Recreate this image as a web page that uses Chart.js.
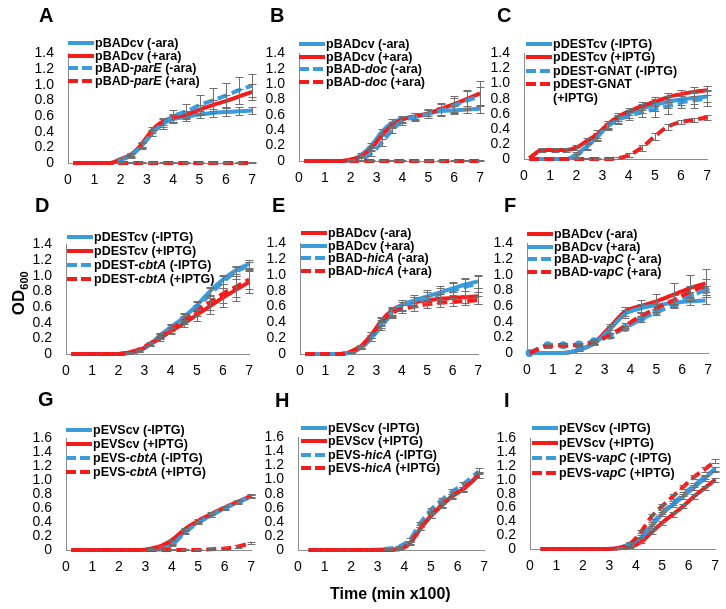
<!DOCTYPE html>
<html>
<head>
<meta charset="utf-8">
<script src="https://cdn.jsdelivr.net/npm/chart.js@4.4.0/dist/chart.umd.min.js"></script>
<style>
body { margin: 0; background: #fff; font-family: "Liberation Sans", Arial, sans-serif; }
#fig { position: relative; width: 726px; height: 609px; overflow: hidden; }
canvas { position: absolute; }
.letter { position: absolute; font-weight: bold; font-size: 20px; line-height: 1; }
.lg { position: absolute; font-weight: bold; font-size: 12.5px; line-height: 14px; white-space: nowrap; display: flex; align-items: flex-start; }
.lg svg { margin-top: 4px; margin-right: 1px; flex: none; }
.axtitle { position: absolute; font-weight: bold; font-size: 16px; line-height: 1; white-space: nowrap; }
</style>
</head>
<body>
<div id="fig"></div>
<script>
// time points (min x100)
const tStd = [0.2, 0.7, 1.2, 1.6, 2.0, 2.4, 2.8, 3.2, 3.6, 4.0, 4.5, 5.0, 5.5, 6.0, 6.5, 7.0];
const tF = [0.1, 0.8, 1.4, 2.0, 2.6, 3.2, 3.8, 4.4, 5.0, 5.7, 6.3, 6.9];
const tH = [0.4, 1.0, 1.6, 2.2, 2.8, 3.4, 3.8, 4.2, 4.6, 5.0, 5.4, 5.8, 6.2, 6.8];
const tI = [0.4, 0.9, 1.4, 1.9, 2.4, 2.9, 3.4, 3.8, 4.2, 4.6, 5.0, 5.4, 5.8, 6.2, 6.6, 7.0];
const xTicks = [0, 1, 2, 3, 4, 5, 6, 7];

// A - parE
const aCvMinus = [0,0,0,0,0.04,0.1,0.22,0.38,0.5,0.56,0.59,0.62,0.64,0.65,0.66,0.67];
const aCvPlus  = [0,0,0,0,0.05,0.11,0.24,0.42,0.53,0.58,0.62,0.68,0.74,0.79,0.85,0.91];
const aTaMinus = [0,0,0,0,0.04,0.1,0.22,0.38,0.5,0.6,0.66,0.74,0.8,0.86,0.93,0.99];
const aTaPlus  = [0,0,0,0,0,0,0,0,0,0,0,0,0,0,0,0];
const aErrCvMinus = [0,0,0,0,0.02,0.02,0.03,0.04,0.04,0.05,0.05,0.05,0.05,0.05,0.05,0.05];
const aErrCvPlus  = [0,0,0,0,0.02,0.02,0.03,0.04,0.04,0.05,0.05,0.06,0.07,0.08,0.09,0.1];
const aErrTaMinus = [0,0,0,0,0.02,0.03,0.04,0.04,0.06,0.08,0.1,0.13,0.16,0.16,0.17,0.15];
const aErrTaPlus  = [0,0,0,0,0.01,0.01,0.01,0.01,0.01,0.01,0.01,0.01,0.01,0.01,0.01,0.01];

// B - doc
const bCvMinus = [0,0,0,0,0.01,0.08,0.2,0.38,0.5,0.55,0.58,0.62,0.65,0.66,0.67,0.68];
const bCvPlus  = [0,0,0,0,0.02,0.06,0.17,0.33,0.47,0.54,0.58,0.62,0.68,0.74,0.81,0.88];
const bTaMinus = [0,0,0,0,0,0.02,0.1,0.24,0.4,0.52,0.57,0.61,0.66,0.72,0.79,0.84];
const bTaPlus  = [0,0,0,0,0,0,0,0,0,0,0,0,0,0,0,0];
const bErrCvMinus = [0,0,0,0,0.01,0.02,0.03,0.04,0.04,0.04,0.04,0.04,0.05,0.05,0.05,0.05];
const bErrCvPlus  = [0,0,0,0,0.01,0.02,0.03,0.04,0.04,0.04,0.05,0.06,0.08,0.1,0.12,0.16];
const bErrTaMinus = [0,0,0,0,0.01,0.02,0.03,0.04,0.04,0.05,0.05,0.05,0.08,0.1,0.12,0.12];
const bErrTaPlus  = [0,0,0,0,0.01,0.01,0.01,0.01,0.01,0.01,0.01,0.01,0.01,0.01,0.01,0.01];

// C - GNAT
const cCvMinus = [0,0,0,0,0.06,0.17,0.3,0.45,0.53,0.6,0.67,0.72,0.76,0.79,0.81,0.83];
const cCvPlus  = [0.01,0.12,0.12,0.12,0.15,0.24,0.33,0.46,0.56,0.63,0.7,0.76,0.82,0.86,0.89,0.91];
const cTaMinus = [0,0,0,0,0.04,0.16,0.29,0.43,0.52,0.57,0.62,0.66,0.7,0.75,0.78,0.8];
const cTaPlus  = [0,0,0,0,0,0,0,0,0.01,0.05,0.15,0.3,0.43,0.49,0.52,0.55];
const cErrCvMinus = [0,0,0,0,0.03,0.04,0.05,0.05,0.05,0.05,0.06,0.08,0.08,0.08,0.08,0.08];
const cErrCvPlus  = [0,0.03,0.03,0.03,0.03,0.04,0.05,0.05,0.05,0.05,0.05,0.06,0.06,0.06,0.06,0.06];
const cErrTaMinus = [0,0,0,0,0.03,0.04,0.05,0.05,0.05,0.05,0.06,0.1,0.1,0.08,0.1,0.1];
const cErrTaPlus  = [0,0,0,0,0.01,0.01,0.01,0.01,0.02,0.03,0.04,0.05,0.04,0.03,0.03,0.03];

// D - cbtA (pDEST)
const dCvMinus = [0,0,0,0,0,0.01,0.04,0.12,0.24,0.34,0.47,0.62,0.8,0.95,1.07,1.15];
const dCvPlus  = [0,0,0,0,0,0.02,0.05,0.12,0.2,0.29,0.39,0.5,0.61,0.72,0.82,0.92];
const dTaMinus = [0,0,0,0,0,0.01,0.04,0.12,0.23,0.33,0.46,0.6,0.76,0.92,1.05,1.13];
const dTaPlus  = [0,0,0,0,0,0.02,0.06,0.13,0.22,0.31,0.43,0.55,0.66,0.77,0.86,0.95];
const dErrCvMinus = [0,0,0,0,0,0.01,0.01,0.02,0.03,0.04,0.05,0.06,0.06,0.06,0.05,0.05];
const dErrCvPlus  = [0,0,0,0,0,0.01,0.01,0.02,0.03,0.04,0.05,0.08,0.1,0.12,0.14,0.14];
const dErrTaMinus = [0,0,0,0,0,0.01,0.01,0.02,0.03,0.04,0.05,0.07,0.08,0.08,0.06,0.05];
const dErrTaPlus  = [0,0,0,0,0,0.01,0.01,0.02,0.03,0.04,0.05,0.07,0.1,0.12,0.13,0.12];

// E - hicA (pBAD)
const eCvMinus = [0,0,0,0,0.03,0.1,0.24,0.42,0.55,0.62,0.66,0.68,0.7,0.71,0.72,0.73];
const eCvPlus  = [0,0,0,0,0.02,0.08,0.2,0.38,0.53,0.62,0.68,0.73,0.78,0.83,0.88,0.92];
const eTaMinus = [0,0,0,0,0.02,0.08,0.2,0.35,0.5,0.6,0.66,0.71,0.76,0.8,0.85,0.89];
const eTaPlus  = [0,0,0,0,0.03,0.1,0.24,0.4,0.52,0.57,0.6,0.63,0.65,0.66,0.67,0.68];
const eErrCvMinus = [0,0,0,0,0.01,0.02,0.04,0.05,0.05,0.06,0.06,0.06,0.06,0.07,0.08,0.1];
const eErrCvPlus  = [0,0,0,0,0.01,0.02,0.04,0.05,0.05,0.06,0.07,0.08,0.08,0.08,0.08,0.08];
const eErrTaMinus = [0,0,0,0,0.01,0.02,0.04,0.05,0.05,0.06,0.06,0.07,0.08,0.1,0.1,0.1];
const eErrTaPlus  = [0,0,0,0,0.01,0.02,0.04,0.05,0.05,0.05,0.05,0.05,0.05,0.05,0.05,0.05];

// F - vapC (pBAD)
const fCvMinus = [0,0,0,0.04,0.13,0.33,0.53,0.6,0.66,0.75,0.83,0.89];
const fCvPlus  = [0,0,0,0.04,0.12,0.3,0.5,0.57,0.61,0.64,0.66,0.67];
const fTaMinus = [0,0.1,0.1,0.11,0.15,0.22,0.32,0.43,0.52,0.62,0.73,0.8];
const fTaPlus  = [0,0.09,0.1,0.1,0.14,0.23,0.35,0.47,0.57,0.68,0.78,0.86];
const fErrCvMinus = [0,0,0,0.01,0.02,0.04,0.06,0.08,0.1,0.14,0.17,0.18];
const fErrCvPlus  = [0,0,0,0.01,0.02,0.04,0.05,0.05,0.05,0.05,0.05,0.05];
const fErrTaMinus = [0,0.02,0.02,0.02,0.03,0.03,0.03,0.04,0.04,0.04,0.05,0.06];
const fErrTaPlus  = [0,0.02,0.02,0.02,0.03,0.03,0.03,0.04,0.05,0.06,0.08,0.08];

// G - cbtA (pEVS)
const gCvMinus = [0,0,0,0,0,0,0,0,0.01,0.08,0.27,0.4,0.5,0.6,0.69,0.78];
const gCvPlus  = [0,0,0,0,0,0,0,0.02,0.06,0.14,0.3,0.42,0.52,0.61,0.69,0.77];
const gTaMinus = [0,0,0,0,0,0,0,0,0.01,0.07,0.25,0.39,0.5,0.6,0.68,0.77];
const gTaPlus  = [0,0,0,0,0,0,0,0,0,0,0,0,0.01,0.02,0.05,0.1];
const gErr     = [0,0,0,0,0,0,0,0.01,0.01,0.01,0.02,0.02,0.02,0.02,0.02,0.02];

// H - hicA (pEVS)
const hCvMinus = [0,0,0,0,0,0.01,0.02,0.1,0.31,0.49,0.64,0.77,0.87,1.07];
const hCvPlus  = [0,0,0,0,0,0,0.01,0.09,0.3,0.48,0.63,0.76,0.86,1.06];
const hTaMinus = [0,0,0,0,0,0.02,0.05,0.15,0.38,0.57,0.71,0.83,0.93,1.12];
const hTaPlus  = [0,0,0,0,0,0,0.01,0.1,0.31,0.49,0.64,0.77,0.87,1.07];
const hErr     = [0,0,0,0,0,0.01,0.01,0.02,0.02,0.03,0.03,0.03,0.03,0.04];

// I - vapC (pEVS)
const iCvMinus = [0,0,0,0,0,0,0.02,0.08,0.16,0.33,0.51,0.64,0.76,0.89,1.02,1.15];
const iCvPlus  = [0,0,0,0,0,0,0.01,0.03,0.1,0.24,0.38,0.5,0.62,0.76,0.88,1.0];
const iTaMinus = [0,0,0,0,0,0,0.02,0.07,0.18,0.36,0.53,0.66,0.79,0.92,1.04,1.16];
const iTaPlus  = [0,0,0,0,0,0,0.02,0.08,0.25,0.47,0.62,0.76,0.9,1.04,1.15,1.27];
const iErr     = [0,0,0,0,0,0,0.01,0.02,0.02,0.03,0.03,0.03,0.03,0.03,0.03,0.03];

const BLUE = '#3b9bdb';
const RED = '#f31c1c';

Chart.defaults.font.family = '"Liberation Sans", Arial, sans-serif';

// box: [x of 0, x of 7, y of max, y of 0]; legend: [left, first row y, row step]
const panels = [
  { letter: 'A', lx: 39, ly: 8, box: [68, 253, 43, 163], ymax: 1.4, t: tStd, legend: [68, 43, 12.7], series: [
    { label: 'pBADcv (-ara)', c: BLUE, v: aCvMinus, e: aErrCvMinus },
    { label: 'pBADcv (+ara)', c: RED, v: aCvPlus, e: aErrCvPlus },
    { label: 'pBAD-<i>parE</i> (-ara)', c: BLUE, dash: true, v: aTaMinus, e: aErrTaMinus },
    { label: 'pBAD-<i>parE</i> (+ara)', c: RED, dash: true, v: aTaPlus, e: aErrTaPlus } ] },
  { letter: 'B', lx: 270, ly: 8, box: [299, 481, 43, 161], ymax: 1.4, t: tStd, legend: [299, 44, 12.7], series: [
    { label: 'pBADcv (-ara)', c: BLUE, v: bCvMinus, e: bErrCvMinus },
    { label: 'pBADcv (+ara)', c: RED, v: bCvPlus, e: bErrCvPlus },
    { label: 'pBAD-<i>doc</i> (-ara)', c: BLUE, dash: true, v: bTaMinus, e: bErrTaMinus },
    { label: 'pBAD-<i>doc</i> (+ara)', c: RED, dash: true, v: bTaPlus, e: bErrTaPlus } ] },
  { letter: 'C', lx: 497, ly: 8, box: [524, 708, 43, 159], ymax: 1.4, t: tStd, legend: [526, 44, 13.3], series: [
    { label: 'pDESTcv (-IPTG)', c: BLUE, v: cCvMinus, e: cErrCvMinus },
    { label: 'pDESTcv (+IPTG)', c: RED, v: cCvPlus, e: cErrCvPlus },
    { label: 'pDEST-GNAT (-IPTG)', c: BLUE, dash: true, v: cTaMinus, e: cErrTaMinus },
    { label: 'pDEST-GNAT<br>(+IPTG)', c: RED, dash: true, v: cTaPlus, e: cErrTaPlus } ] },
  { letter: 'D', lx: 35, ly: 198, box: [66, 250, 234, 354], ymax: 1.4, t: tStd, legend: [67, 237, 14], series: [
    { label: 'pDESTcv (-IPTG)', c: BLUE, v: dCvMinus, e: dErrCvMinus },
    { label: 'pDESTcv (+IPTG)', c: RED, v: dCvPlus, e: dErrCvPlus },
    { label: 'pDEST-<i>cbtA</i> (-IPTG)', c: BLUE, dash: true, v: dTaMinus, e: dErrTaMinus },
    { label: 'pDEST-<i>cbtA</i> (+IPTG)', c: RED, dash: true, v: dTaPlus, e: dErrTaPlus } ] },
  { letter: 'E', lx: 272, ly: 198, box: [300, 479, 233, 354], ymax: 1.4, t: tStd, legend: [301, 233, 12.7], series: [
    { label: 'pBADcv (-ara)', c: RED, v: eCvMinus, e: eErrCvMinus },
    { label: 'pBADcv (+ara)', c: BLUE, v: eCvPlus, e: eErrCvPlus },
    { label: 'pBAD-<i>hicA</i> (-ara)', c: BLUE, dash: true, v: eTaMinus, e: eErrTaMinus },
    { label: 'pBAD-<i>hicA</i> (+ara)', c: RED, dash: true, v: eTaPlus, e: eErrTaPlus } ] },
  { letter: 'F', lx: 504, ly: 198, box: [527, 709, 233, 353], ymax: 1.4, t: tF, legend: [527, 234, 12.7], series: [
    { label: 'pBADcv (-ara)', c: RED, v: fCvMinus, e: fErrCvMinus },
    { label: 'pBADcv (+ara)', c: BLUE, v: fCvPlus, e: fErrCvPlus },
    { label: 'pBAD-<i>vapC</i> (- ara)', c: BLUE, dash: true, dots: true, v: fTaMinus, e: fErrTaMinus },
    { label: 'pBAD-<i>vapC</i> (+ara)', c: RED, dash: true, v: fTaPlus, e: fErrTaPlus } ] },
  { letter: 'G', lx: 38, ly: 392, box: [66, 252, 428, 550], ymax: 1.6, t: tStd, legend: [66, 430, 14], series: [
    { label: 'pEVScv (-IPTG)', c: BLUE, v: gCvMinus, e: gErr },
    { label: 'pEVScv (+IPTG)', c: RED, v: gCvPlus, e: gErr },
    { label: 'pEVS-<i>cbtA</i> (-IPTG)', c: BLUE, dash: true, v: gTaMinus, e: gErr },
    { label: 'pEVS-<i>cbtA</i> (+IPTG)', c: RED, dash: true, v: gTaPlus, e: gErr } ] },
  { letter: 'H', lx: 275, ly: 393, box: [298, 485, 427, 550], ymax: 1.6, t: tH, legend: [301, 428, 13.3], series: [
    { label: 'pEVScv (-IPTG)', c: BLUE, v: hCvMinus, e: hErr },
    { label: 'pEVScv (+IPTG)', c: RED, v: hCvPlus, e: hErr },
    { label: 'pEVS-<i>hicA</i> (-IPTG)', c: BLUE, dash: true, v: hTaMinus, e: hErr },
    { label: 'pEVS-<i>hicA</i> (+IPTG)', c: RED, dash: true, v: hTaPlus, e: hErr } ] },
  { letter: 'I', lx: 504, ly: 393, box: [530, 716, 428, 549], ymax: 1.6, t: tI, legend: [532, 428, 15], series: [
    { label: 'pEVScv (-IPTG)', c: BLUE, v: iCvMinus, e: iErr },
    { label: 'pEVScv (+IPTG)', c: RED, v: iCvPlus, e: iErr },
    { label: 'pEVS-<i>vapC</i> (-IPTG)', c: BLUE, dash: true, v: iTaMinus, e: iErr },
    { label: 'pEVS-<i>vapC</i> (+IPTG)', c: RED, dash: true, v: iTaPlus, e: iErr } ] }
];

// gray error bars with small caps, drawn through the chart scales
const errorBars = {
  id: 'errorBars',
  afterDatasetsDraw(chart) {
    const { ctx, scales: { x, y } } = chart;
    ctx.save();
    ctx.strokeStyle = '#707070';
    ctx.lineWidth = 1;
    chart.data.datasets.forEach(ds => {
      if (!ds.errors) return;
      ds.data.forEach((p, i) => {
        const e = ds.errors[i];
        if (!e) return;
        const px = Math.round(x.getPixelForValue(p.x)) + 0.5;
        const top = Math.round(y.getPixelForValue(p.y + e)) + 0.5;
        const bot = Math.round(y.getPixelForValue(Math.max(0, p.y - e))) + 0.5;
        ctx.beginPath();
        ctx.moveTo(px, top); ctx.lineTo(px, bot);
        ctx.moveTo(px - 4, top); ctx.lineTo(px + 4, top);
        ctx.moveTo(px - 4, bot); ctx.lineTo(px + 4, bot);
        ctx.stroke();
      });
    });
    ctx.restore();
  }
};

const fig = document.getElementById('fig');

function makePanel(p) {
  const [L, R, T, B] = p.box;
  const padL = 45, padR = 12, padT = 12, padB = 32;
  const w = R - L + padL + padR, h = B - T + padT + padB;
  const cv = document.createElement('canvas');
  cv.width = w; cv.height = h;
  cv.style.left = (L - padL) + 'px';
  cv.style.top = (T - padT) + 'px';
  cv.style.width = w + 'px';
  cv.style.height = h + 'px';
  fig.appendChild(cv);

  const datasets = p.series.map((s, i) => ({
    label: s.label,
    data: s.v.map((v, k) => ({ x: p.t[k], y: v })),
    errors: s.e,
    borderColor: s.c,
    backgroundColor: s.c,
    borderWidth: 4,
    borderDash: s.dash ? [10, 5] : [],
    pointRadius: s.dots ? 4 : 0,
    pointBorderWidth: 0,
    cubicInterpolationMode: 'monotone',
    fill: false,
    clip: false,
    order: -i
  }));

  new Chart(cv, {
    type: 'line',
    data: { datasets },
    options: {
      responsive: false,
      animation: false,
      events: [],
      layout: { padding: { left: 0, right: padR, top: padT, bottom: 0 } },
      plugins: { legend: { display: false }, tooltip: { enabled: false } },
      scales: {
        x: {
          type: 'linear', min: 0, max: 7,
          afterFit: s => { s.height = padB; },
          afterBuildTicks: s => { s.ticks = xTicks.map(v => ({ value: v })); },
          grid: { display: false, drawTicks: false },
          border: { color: '#8c8c8c', width: 1 },
          ticks: { padding: 9, color: '#000', font: { size: 14 }, maxRotation: 0, autoSkip: false }
        },
        y: {
          type: 'linear', min: 0, max: p.ymax,
          afterFit: s => { s.width = padL; },
          grid: { display: false, drawTicks: false },
          border: { color: '#8c8c8c', width: 1 },
          ticks: {
            stepSize: 0.2, padding: 14, color: '#000', font: { size: 14 }, autoSkip: false,
            callback: v => v === 0 ? '0' : v.toFixed(1)
          }
        }
      }
    },
    plugins: [errorBars]
  });
}

function makeLegend(p) {
  const [lx, ly, step] = p.legend;
  p.series.forEach((s, i) => {
    const row = document.createElement('div');
    row.className = 'lg';
    row.style.left = lx + 'px';
    row.style.top = Math.round(ly + i * step - 7) + 'px';
    const dash = s.dash ? ' stroke-dasharray="10 4"' : '';
    row.innerHTML = '<svg width="26" height="6"><line x1="0" y1="3" x2="26" y2="3" stroke="' + s.c +
      '" stroke-width="4"' + dash + '/></svg><span>' + s.label + '</span>';
    fig.appendChild(row);
  });
  const lt = document.createElement('div');
  lt.className = 'letter';
  lt.style.left = p.lx + 'px';
  lt.style.top = (p.ly - 3) + 'px';
  lt.textContent = p.letter;
  fig.appendChild(lt);
}

panels.forEach(p => { makePanel(p); makeLegend(p); });

// shared axis titles
const yTitle = document.createElement('div');
yTitle.className = 'axtitle';
yTitle.style.fontSize = '17px';
yTitle.innerHTML = 'OD<sub style="font-size:11px">600</sub>';
yTitle.style.left = '-2px';
yTitle.style.top = '283px';
yTitle.style.transform = 'rotate(-90deg)';
fig.appendChild(yTitle);

const xTitle = document.createElement('div');
xTitle.className = 'axtitle';
xTitle.textContent = 'Time (min x100)';
xTitle.style.left = '330px';
xTitle.style.top = '586px';
fig.appendChild(xTitle);
</script>
</body>
</html>
